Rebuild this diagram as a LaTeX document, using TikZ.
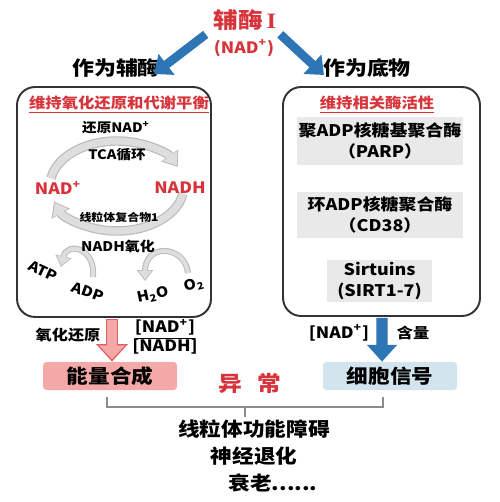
\documentclass[tikz,border=0pt]{standalone}
\usepackage{fontspec}
\setmainfont{Noto Sans CJK SC}[FakeStretch=1.12]
\newfontfamily\romanI{Liberation Serif}[FakeStretch=1.12]
\usetikzlibrary{arrows.meta,positioning,calc}

\definecolor{nadred}{RGB}{214,52,58}
\definecolor{nadblue}{RGB}{46,117,182}
\definecolor{cyclegray}{RGB}{222,222,222}
\definecolor{cycleedge}{RGB}{188,188,188}
\definecolor{boxgray}{RGB}{233,233,233}
\definecolor{energypink}{RGB}{245,168,168}
\definecolor{signalblue}{RGB}{210,229,238}
\newcommand{\fsz}[1]{\fontsize{\fpeval{#1/1.12}pt}{\fpeval{#1/1.12}pt}\selectfont}

\begin{document}
\begin{tikzpicture}[x=0.02cm, y=-0.02cm,
    txt/.style={inner sep=1pt, font=\bfseries\fsz{#1}},
    panel/.style={draw=black!80, line width=1.1pt, rounded corners=0.36cm},
    redhead/.style={inner sep=1pt, text=nadred, font=\bfseries\fsz{9.3}},
    enzyme/.style={fill=boxgray, align=center, inner sep=1pt, font=\bfseries\fontsize{\fpeval{10.2/1.12}pt}{11.6pt}\selectfont},
    bluearrow/.style={nadblue, line width=5pt, -{Triangle[width=14.5pt,length=9pt]}},
    cycleout/.style={cycleedge, line width=5.4pt, -{Triangle[width=11.5pt,length=8pt]}},
    cyclein/.style={cyclegray, line width=4pt, shorten >=1pt, -{Triangle[width=9.5pt,length=6.6pt]}},
    smallout/.style={cycleedge, line width=3.4pt, -{Triangle[width=9pt,length=6.2pt]}},
    smallin/.style={cyclegray, line width=2.2pt, shorten >=0.9pt, -{Triangle[width=7.2pt,length=4.9pt]}},
    bracketline/.style={black!45, line width=1.1pt}]
    \useasboundingbox (0,0) rectangle (499,502);

    % Title and the two roles
    \node[txt=14, text=nadred] (coenz) at (245,20) {辅酶\,{\romanI I}};
    \node[txt=10, text=nadred] (nadtop) at (244,48) {(NAD\textsuperscript{+})};
    \node[txt=12.5] (ascoenz) at (116,68) {作为辅酶};
    \node[txt=12.5] (assubst) at (367,68) {作为底物};
    \draw[bluearrow] ($(nadtop.north west)+(-6,-3)$) -- ($(ascoenz.east)+(-8,6)$);
    \draw[bluearrow] ($(nadtop.north east)+(4,-3)$) -- ($(assubst.west)+(3,7)$);

    % Left panel: redox cycle
    \node[panel, minimum width=3.88cm, minimum height=4.6cm] (lpanel) at (114,202) {};
    \coordinate (atpc) at (43,271);
    \coordinate (adpc) at (88,292);
    \coordinate (waterc) at (153,295);
    \coordinate (oxyc) at (194,285);
    \foreach \st/\sm in {cycleout/smallout, cyclein/smallin} {
        \draw[\st] ($(117,186)+(190:67 and 45)$) arc[start angle=190, end angle=335, x radius=67, y radius=45];
        \draw[\st] ($(117,186)+(10:67 and 45)$) arc[start angle=10, end angle=160, x radius=67, y radius=45];
        \draw[\sm] ($(adpc)+(5,-15)$) .. controls ($(adpc)+(8,-44)$) and ($(atpc)+(24,-30)$) .. ($(atpc)+(18,-4)$);
        \draw[\sm] ($(oxyc)+(-6,-12)$) .. controls ($(oxyc)+(-9,-40)$) and ($(waterc)+(-8,-52)$) .. ($(waterc)+(-8,-14)$);
    }
    \node[redhead] (lhead) at (119,105) {\underline{维持氧化还原和代谢平衡}};
    \node[txt=8.3] (reduce) at (116,128) {还原NAD\textsuperscript{+}};
    \node[txt=8.3] (tca) at (117,155) {TCA循环};
    \node[txt=10, text=nadred] (nadl) at (58,188) {NAD\textsuperscript{+}};
    \node[txt=10, text=nadred] (nadh) at (180,188) {NADH};
    \node[txt=6.8] (complex) at (119,217) {线粒体复合物1};
    \node[txt=8.5] (oxid) at (118,246) {NADH氧化};
    \node[txt=9, rotate=-25] (atp) at (atpc) {ATP};
    \node[txt=9, rotate=-20] (adp) at (adpc) {ADP};
    \node[txt=9, rotate=12] (water) at (waterc) {H\textsubscript{2}O};
    \node[txt=9, rotate=15] (oxy) at (oxyc) {O\textsubscript{2}};

    % Right panel: enzymes
    \node[panel, minimum width=3.94cm, minimum height=4.58cm] (rpanel) at (381.5,201.5) {};
    \node[redhead] (rhead) at (377,105) {\underline{维持相关酶活性}};
    \node[enzyme, minimum width=3.32cm, minimum height=0.96cm] (parp) at (380,141) {聚ADP核糖基聚合酶\\（PARP）};
    \node[enzyme, minimum width=3.32cm, minimum height=0.92cm] (cd38) at (380,215) {环ADP核糖聚合酶\\（CD38）};
    \node[enzyme, minimum width=2.1cm, minimum height=0.84cm] (sirt) at (379.5,281) {Sirtuins\\(SIRT1-7)};

    % Outcomes
    \node[txt=12.3, fill=energypink, rounded corners=2pt, minimum width=2.68cm, minimum height=0.56cm] (energy) at (110,376) {能量合成};
    \node[txt=12.3, fill=signalblue, rounded corners=2pt, minimum width=2.68cm, minimum height=0.56cm] (signal) at (390,376) {细胞信号};
    \draw[nadred!80, line width=7pt, -{Triangle[width=17.5pt,length=10pt]}] ($(lpanel.south)+(-2,1)$) -- ($(energy.north)+(2,0)$);
    \draw[energypink, line width=5.4pt, shorten >=1.3pt, shorten <=0.8pt, -{Triangle[width=14.5pt,length=8pt]}] ($(lpanel.south)+(-2,1)$) -- ($(energy.north)+(2,0)$);
    \draw[nadblue, line width=6.4pt, -{Triangle[width=16.5pt,length=9.5pt]}] ($(rpanel.south)+(0.5,1)$) -- ($(signal.north)+(-8,0)$);
    \node[txt=9.2] (redox) at (68,335) {氧化还原};
    \node[txt=10] (ratiotop) at (165,329) {\underline{[NAD\textsuperscript{+}]}};
    \node[txt=10] (ratiobot) at (165,347) {[NADH]};
    \node[txt=10] (nadlevel) at (339,333) {[NAD\textsuperscript{+}]};
    \node[txt=9.2] (amount) at (413,333) {含量};
    \node[txt=13.5, text=nadred] (abnormal) at (250,383) {异\hspace{0.7em}常};

    % Consequences
    \coordinate (bl) at ($(energy.south)+(-3,7)$);
    \coordinate (br) at ($(signal.south)+(-7,7)$);
    \draw[bracketline] (bl) -- ++(0,10) -| (br);
    \draw[bracketline] ($(bl)!0.5!(br)+(0,10)$) -- ++(0,10);
    \node[txt=12.3] (mito) at (254,429) {线粒体功能障碍};
    \node[txt=12.3] (neuro) at (254,456) {神经退化};
    \node[txt=12.3] (aging) at (273,483) {衰老......};
\end{tikzpicture}
\end{document}
